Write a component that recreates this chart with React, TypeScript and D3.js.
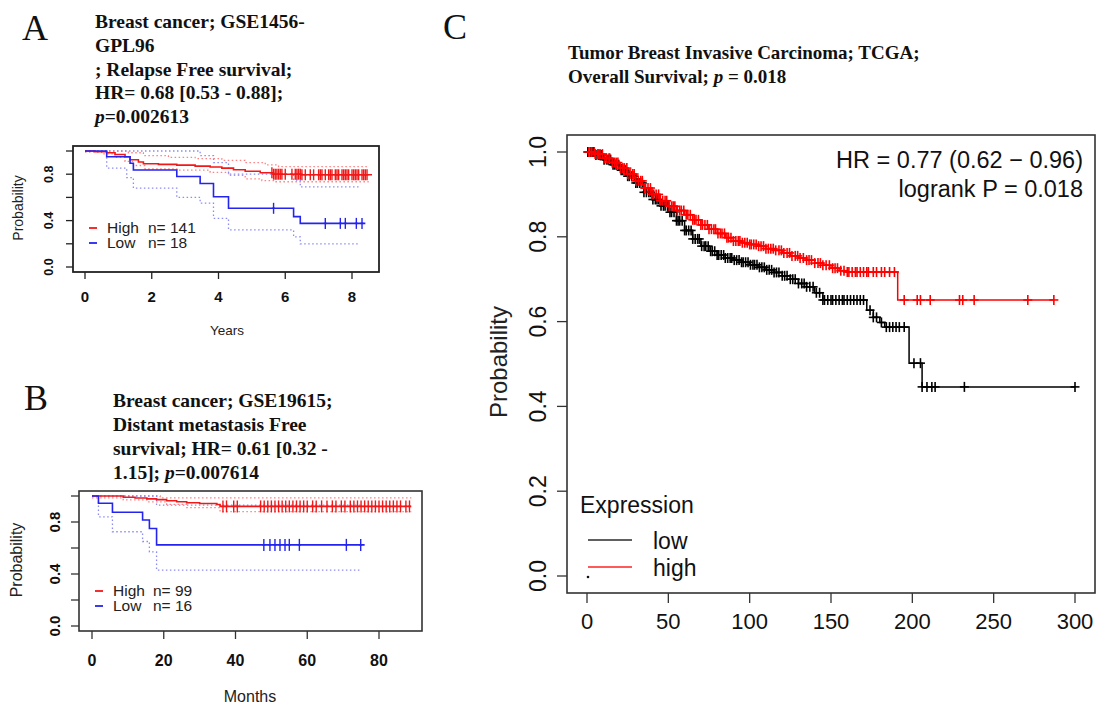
import React, { useEffect, useRef } from 'react';
import * as d3 from 'd3';

type Pt = [number, number];
type Seg = [string, boolean];

const SANS = "'Liberation Sans', Arial, sans-serif";
const SERIF = "'Liberation Serif', 'Times New Roman', serif";

// ---------- Panel A: GSE1456-GPL96, relapse free survival (years)
const aTitle: Seg[][] = [
  [['Breast cancer; GSE1456-', false]],
  [['GPL96', false]],
  [['; Relapse Free survival;', false]],
  [['HR= 0.68 [0.53 - 0.88];', false]],
  [['p', true], ['=0.002613', false]],
];
const aTicksX = [0, 2, 4, 6, 8];
const aTicksY = [0, 0.2, 0.4, 0.6, 0.8, 1];
const aLabelsY = [0, 0.4, 0.8];
const aHigh: Pt[] = [[0, 1], [0.3, 0.993], [0.65, 0.985], [0.9, 0.97], [1.2, 0.95], [1.35, 0.925], [1.6, 0.905], [1.75, 0.89], [2.2, 0.885], [2.75, 0.878], [3.3, 0.87], [3.75, 0.862], [4.1, 0.852], [4.45, 0.838], [4.8, 0.826], [5.25, 0.812], [5.65, 0.8], [6.5, 0.795], [8.6, 0.795]];
const aHighUp: Pt[] = [[0, 1], [1.0, 1], [1.3, 0.985], [1.75, 0.96], [2.5, 0.945], [3.3, 0.935], [4.1, 0.92], [4.8, 0.9], [5.4, 0.88], [5.8, 0.865], [8.5, 0.865]];
const aHighLo: Pt[] = [[0, 0.99], [0.5, 0.975], [0.9, 0.945], [1.2, 0.91], [1.45, 0.875], [1.8, 0.845], [2.75, 0.835], [3.75, 0.815], [4.3, 0.79], [4.8, 0.76], [5.3, 0.745], [5.7, 0.735], [8.5, 0.735]];
const aLow: Pt[] = [[0, 1], [0.65, 0.951], [1.35, 0.894], [1.45, 0.836], [2.75, 0.78], [3.45, 0.72], [3.85, 0.606], [4.3, 0.506], [6.25, 0.434], [6.45, 0.376], [8.4, 0.376]];
const aLowUp: Pt[] = [[0, 1], [3.45, 0.96], [3.85, 0.9], [4.3, 0.8], [6.25, 0.75], [6.45, 0.69], [8.2, 0.69]];
const aLowLo: Pt[] = [[0, 1], [0.65, 0.853], [1.25, 0.77], [1.45, 0.68], [2.75, 0.6], [3.45, 0.55], [3.85, 0.42], [4.3, 0.32], [6.25, 0.26], [6.45, 0.2], [8.2, 0.2]];
const aHighCens = [5.6, 5.65, 5.7, 5.75, 5.8, 5.85, 5.9, 6.0, 6.2, 6.3, 6.35, 6.4, 6.45, 6.5, 6.6, 6.75, 6.85, 7.0, 7.05, 7.1, 7.2, 7.3, 7.35, 7.4, 7.5, 7.55, 7.6, 7.7, 7.75, 7.8, 7.85, 7.9, 8.0, 8.05, 8.1, 8.15, 8.2, 8.3, 8.35, 8.4, 8.45];
const aLowCens = [5.65, 7.2, 7.65, 7.8, 8.13, 8.3];
const aLegend = [['High', 'n= 141'], ['Low', 'n= 18']];

// ---------- Panel B: GSE19615, distant metastasis free survival (months)
const bTitle: Seg[][] = [
  [['Breast cancer; GSE19615;', false]],
  [['Distant metastasis Free', false]],
  [['survival; HR= 0.61 [0.32 -', false]],
  [['1.15]; ', false], ['p', true], ['=0.007614', false]],
];
const bTicksX = [0, 20, 40, 60, 80];
const bTicksY = [0, 0.2, 0.4, 0.6, 0.8, 1];
const bLabelsY = [0, 0.4, 0.8];
const bHigh: Pt[] = [[0, 1], [8.7, 0.99], [12, 0.985], [15.3, 0.978], [18, 0.972], [20.8, 0.964], [23.6, 0.956], [26.4, 0.948], [30, 0.942], [34.8, 0.935], [35.7, 0.92], [89, 0.92]];
const bHighUp: Pt[] = [[0, 1], [19, 0.985], [89, 0.985]];
const bHighLo: Pt[] = [[0, 0.985], [8.7, 0.97], [15.3, 0.955], [20.8, 0.935], [26.4, 0.91], [35.7, 0.88], [89, 0.88]];
const bLow: Pt[] = [[0, 1], [1.8, 0.944], [5.7, 0.875], [14.1, 0.815], [16, 0.75], [18, 0.624], [76, 0.624]];
const bLowUp: Pt[] = [[0, 1], [18, 0.93], [75, 0.93]];
const bLowLo: Pt[] = [[0, 1], [1.8, 0.84], [5.7, 0.725], [14.1, 0.65], [16, 0.57], [18, 0.43], [75, 0.43]];
const bHighCens = [36.5, 37.5, 39.5, 40.5, 47, 48, 49, 50, 51, 52, 53, 54, 55, 56, 57, 58, 59, 60, 61.5, 62.5, 64, 65.5, 67, 68, 69.5, 70.5, 72, 73, 74, 75, 76, 77, 78, 79, 80, 81, 82, 83, 84, 85, 86, 87.5, 88.5];
const bLowCens = [47.9, 49.6, 51, 52.4, 53.8, 55, 57.8, 70.9, 74.9];
const bLegend = [['High', 'n= 99'], ['Low', 'n= 16']];

// ---------- Panel C: TCGA BRCA overall survival (months)
const cTitle: Seg[][] = [
  [['Tumor Breast Invasive Carcinoma; TCGA;', false]],
  [['Overall Survival; ', false], ['p', true], [' = 0.018', false]],
];
const cTicksX = [0, 50, 100, 150, 200, 250, 300];
const cTicksY = [0, 0.2, 0.4, 0.6, 0.8, 1];
const cHigh: Pt[] = [[0, 1], [5, 0.995], [10, 0.985], [15, 0.975], [20, 0.962], [25, 0.948], [30, 0.932], [35, 0.915], [40, 0.9], [45, 0.885], [50, 0.872], [55, 0.862], [60, 0.852], [65, 0.84], [70, 0.828], [75, 0.818], [80, 0.808], [85, 0.798], [90, 0.79], [95, 0.786], [100, 0.782], [105, 0.778], [110, 0.772], [115, 0.768], [120, 0.762], [125, 0.755], [130, 0.75], [135, 0.745], [140, 0.738], [145, 0.733], [150, 0.726], [155, 0.72], [160, 0.717], [191, 0.651], [287, 0.651]];
const cLow: Pt[] = [[0, 1], [5, 0.993], [10, 0.982], [15, 0.97], [20, 0.957], [25, 0.943], [30, 0.927], [35, 0.905], [40, 0.888], [45, 0.873], [50, 0.858], [55, 0.838], [60, 0.815], [65, 0.795], [70, 0.778], [75, 0.766], [80, 0.757], [85, 0.75], [90, 0.745], [95, 0.74], [100, 0.734], [105, 0.728], [110, 0.722], [115, 0.716], [120, 0.708], [125, 0.7], [130, 0.69], [135, 0.682], [140, 0.668], [145, 0.651], [172, 0.627], [176, 0.61], [180, 0.598], [183, 0.587], [198, 0.502], [206, 0.446], [300, 0.446]];
const cHighCens = [1, 2.5, 3, 4.5, 5, 6.5, 7, 8, 9.5, 11, 12, 13.5, 14, 15.5, 17, 18, 19, 20.5, 22, 23, 24.5, 25, 26.5, 28, 29, 30, 31.5, 33, 34, 35.5, 36, 37.5, 39, 40, 41, 42.5, 44, 45, 46.5, 48, 49, 50.5, 52, 53, 54, 55.5, 57, 58, 59.5, 61, 62, 63.5, 65, 66, 67, 68.5, 70, 71, 72.5, 74, 75, 76.5, 78, 79, 80.5, 82, 83, 84.5, 86, 87, 88.5, 90, 91.5, 93, 94, 95.5, 97, 98.5, 100, 101, 102.5, 104, 105.5, 107, 108.5, 110, 111.5, 113, 114.5, 116, 118, 119.5, 121, 123, 124.5, 126, 128, 129.5, 131, 133, 135, 136.5, 138, 140, 142, 143.5, 145, 147, 149, 151, 152.5, 154, 156, 158, 160, 161, 163, 165, 166, 168, 170, 172, 173, 176, 178, 181, 183, 186, 189, 195, 203, 205, 211, 229, 231, 238, 271, 287];
const cLowCens = [0.5, 2, 3.5, 4, 5.5, 7, 8, 9, 10.5, 12, 13, 14.5, 16, 17, 18, 19.5, 21, 22, 23.5, 25, 26, 27.5, 29, 30, 31, 32.5, 34, 35, 36.5, 38, 39, 40.5, 42, 43, 44, 45.5, 47, 48, 49.5, 51, 52, 53.5, 55, 56, 57, 58.5, 60, 61, 62.5, 64, 65, 66.5, 68, 69, 70.5, 72, 73, 74.5, 76, 77, 78.5, 80, 81, 82.5, 84, 85, 86.5, 88, 89, 90.5, 92, 93.5, 95, 96, 97.5, 99, 100.5, 102, 103, 104.5, 106, 107.5, 109, 110.5, 112, 113.5, 115, 116.5, 118, 120, 121.5, 123, 125, 126.5, 128, 130, 132, 133.5, 135, 137, 139, 141, 143, 145, 146, 148, 150, 151, 153, 155, 157, 158, 160, 162, 164, 166, 168, 170, 174, 176, 178, 181, 184, 186, 188, 190, 192, 195, 201, 205, 206, 209, 212, 214, 232, 300];
const cStats = ['HR = 0.77 (0.62 \u2212 0.96)', 'logrank P = 0.018'];
const cLegendTitle = 'Expression';
const cLegend = [['low', '#606060'], ['high', '#ff5a5a']];

function stepValue(steps: Pt[], t: number) {
  const i = d3.bisector((d: Pt) => d[0]).right(steps, t) - 1;
  return steps[Math.max(0, i)][1];
}

function drawTitle(svg: any, lines: Seg[][], x: number, y0: number, dy: number, size: number) {
  const t = svg
    .append('text')
    .attr('font-family', SERIF)
    .attr('font-weight', 'bold')
    .attr('font-size', size)
    .attr('fill', '#111')
    .style('white-space', 'pre');
  lines.forEach((segs, i) => {
    segs.forEach((s, j) => {
      const ts = t.append('tspan').text(s[0]);
      if (j === 0) ts.attr('x', x).attr('y', y0 + i * dy);
      if (s[1]) ts.attr('font-style', 'italic');
    });
  });
}

function drawFrame(svg: any, o: any) {
  const { x, y, box } = o;
  const g = svg.append('g');
  g.append('rect')
    .attr('x', box[0])
    .attr('y', box[1])
    .attr('width', box[2] - box[0])
    .attr('height', box[3] - box[1])
    .attr('fill', 'none')
    .attr('stroke', o.boxStroke)
    .attr('stroke-width', o.boxWidth);

  o.xTicks.forEach((t: number) => {
    g.append('line')
      .attr('x1', x(t)).attr('x2', x(t))
      .attr('y1', box[3]).attr('y2', box[3] + o.tickLen)
      .attr('stroke', o.boxStroke).attr('stroke-width', o.tickWidth);
    g.append('text')
      .attr('x', x(t)).attr('y', o.xBase)
      .attr('text-anchor', 'middle')
      .attr('font-family', SANS).attr('font-size', o.xFont)
      .attr('font-weight', o.bold ? 'bold' : 'normal')
      .attr('fill', '#111')
      .text(String(t));
  });
  o.yTicks.forEach((t: number) => {
    g.append('line')
      .attr('x1', box[0] - o.tickLen).attr('x2', box[0])
      .attr('y1', y(t)).attr('y2', y(t))
      .attr('stroke', o.boxStroke).attr('stroke-width', o.tickWidth);
  });
  o.yLabels.forEach((t: number) => {
    g.append('text')
      .attr('transform', `translate(${o.yBase},${y(t)}) rotate(-90)`)
      .attr('text-anchor', 'middle')
      .attr('font-family', SANS).attr('font-size', o.yFont)
      .attr('font-weight', o.bold ? 'bold' : 'normal')
      .attr('fill', '#111')
      .text(d3.format('.1f')(t));
  });
  if (o.xTitle) {
    g.append('text')
      .attr('x', o.xTitle[1]).attr('y', o.xTitle[2])
      .attr('text-anchor', 'middle')
      .attr('font-family', SANS).attr('font-size', o.xTitle[3])
      .attr('fill', '#222')
      .text(o.xTitle[0]);
  }
  g.append('text')
    .attr('transform', `translate(${o.yTitle[1]},${o.yTitle[2]}) rotate(-90)`)
    .attr('text-anchor', 'middle')
    .attr('font-family', SANS).attr('font-size', o.yTitle[3])
    .attr('fill', '#222')
    .text(o.yTitle[0]);
}

function drawCurve(g: any, data: Pt[], x: any, y: any, color: string, width: number, dash?: string) {
  const line = d3
    .line<Pt>()
    .x((d) => x(d[0]))
    .y((d) => y(d[1]))
    .curve(d3.curveStepAfter);
  const p = g
    .append('path')
    .datum(data)
    .attr('fill', 'none')
    .attr('stroke', color)
    .attr('stroke-width', width)
    .attr('d', line);
  if (dash) p.attr('stroke-dasharray', dash);
}

function drawCensor(g: any, times: number[], steps: Pt[], x: any, y: any, color: string, half: number, hw: number, sw: number) {
  times.forEach((t) => {
    const cx = x(t);
    const cy = y(stepValue(steps, t));
    g.append('line')
      .attr('x1', cx).attr('x2', cx)
      .attr('y1', cy - half).attr('y2', cy + half)
      .attr('stroke', color).attr('stroke-width', sw);
    g.append('line')
      .attr('x1', cx - hw).attr('x2', cx + hw)
      .attr('y1', cy).attr('y2', cy)
      .attr('stroke', color).attr('stroke-width', sw);
  });
}

function drawSmallLegend(svg: any, rows: string[][], colors: string[], dashX: number, textX: number, nX: number, ys: number[], size: number) {
  rows.forEach((r, i) => {
    svg.append('line')
      .attr('x1', dashX).attr('x2', dashX + 8)
      .attr('y1', ys[i] - 5).attr('y2', ys[i] - 5)
      .attr('stroke', colors[i]).attr('stroke-width', 1.8);
    svg.append('text')
      .attr('x', textX).attr('y', ys[i])
      .attr('font-family', SANS).attr('font-size', size).attr('fill', '#222')
      .text(r[0]);
    svg.append('text')
      .attr('x', nX).attr('y', ys[i])
      .attr('font-family', SANS).attr('font-size', size).attr('fill', '#222')
      .text(r[1]);
  });
}

const RED = '#f21818';
const BLUE = '#2424ee';
const RED_CI = '#ff8080';
const BLUE_CI = '#8c8cf5';

const App: React.FC = () => {
  const svgRef = useRef<SVGSVGElement>(null);

  useEffect(() => {
    if (!svgRef.current) return;
    d3.select(svgRef.current).selectAll('*').remove();
    const svg = d3.select(svgRef.current);

    svg.append('rect').attr('width', 1097).attr('height', 704).attr('fill', '#fff');

    // panel letters
    [['A', 22, 40], ['B', 24, 410], ['C', 443, 39]].forEach((d) => {
      svg.append('text')
        .attr('x', d[1]).attr('y', d[2])
        .attr('font-family', SERIF).attr('font-size', 36).attr('fill', '#111')
        .text(d[0] as string);
    });

    // ---------------- Panel A
    drawTitle(svg, aTitle, 95, 28, 23.75, 19.5);
    const ax = d3.scaleLinear().domain([0, 8]).range([85, 352]);
    const ay = d3.scaleLinear().domain([0, 1]).range([267, 151]);
    const ag = svg.append('g');
    drawCurve(ag, aHighUp, ax, ay, RED_CI, 1.3, '1.5,2.5');
    drawCurve(ag, aHighLo, ax, ay, RED_CI, 1.3, '1.5,2.5');
    drawCurve(ag, aLowUp, ax, ay, BLUE_CI, 1.3, '1.5,2.5');
    drawCurve(ag, aLowLo, ax, ay, BLUE_CI, 1.3, '1.5,2.5');
    drawCurve(ag, aHigh, ax, ay, RED, 1.6);
    drawCurve(ag, aLow, ax, ay, BLUE, 1.6);
    drawCensor(ag, aHighCens, aHigh, ax, ay, RED, 5.5, 1.5, 1.4);
    drawCensor(ag, aLowCens, aLow, ax, ay, BLUE, 5.5, 1.5, 1.4);
    drawFrame(svg, {
      x: ax, y: ay, box: [73, 146, 379, 272], boxStroke: '#222', boxWidth: 1.8, tickLen: 7, tickWidth: 1.3,
      xTicks: aTicksX, yTicks: aTicksY, yLabels: aLabelsY, bold: true,
      xFont: 15, xBase: 302, yFont: 12.5, yBase: 53,
      xTitle: ['Years', 227, 335, 13.5], yTitle: ['Probability', 23, 208, 14],
    });
    drawSmallLegend(svg, aLegend, [RED, BLUE], 89, 107, 148, [233, 248], 15.5);

    // ---------------- Panel B
    drawTitle(svg, bTitle, 113, 407, 24, 19.5);
    const bx = d3.scaleLinear().domain([0, 80]).range([92, 379]);
    const by = d3.scaleLinear().domain([0, 1]).range([626, 496]);
    const bg = svg.append('g');
    drawCurve(bg, bHighUp, bx, by, RED_CI, 1.3, '1.5,2.5');
    drawCurve(bg, bHighLo, bx, by, RED_CI, 1.3, '1.5,2.5');
    drawCurve(bg, bLowUp, bx, by, BLUE_CI, 1.3, '1.5,2.5');
    drawCurve(bg, bLowLo, bx, by, BLUE_CI, 1.3, '1.5,2.5');
    drawCurve(bg, bHigh, bx, by, RED, 1.6);
    drawCurve(bg, bLow, bx, by, BLUE, 1.6);
    drawCensor(bg, bHighCens, bHigh, bx, by, RED, 6, 1.5, 1.4);
    drawCensor(bg, bLowCens, bLow, bx, by, BLUE, 6, 1.5, 1.4);
    drawFrame(svg, {
      x: bx, y: by, box: [79, 491, 422, 631], boxStroke: '#333', boxWidth: 1.6, tickLen: 8, tickWidth: 1.3,
      xTicks: bTicksX, yTicks: bTicksY, yLabels: bLabelsY, bold: true,
      xFont: 16, xBase: 666, yFont: 15, yBase: 60,
      xTitle: ['Months', 250, 702, 16], yTitle: ['Probability', 22, 560, 16],
    });
    drawSmallLegend(svg, bLegend, [RED, BLUE], 95, 113, 153, [596, 611], 15.5);

    // ---------------- Panel C
    drawTitle(svg, cTitle, 568, 59, 24, 19);
    const cx = d3.scaleLinear().domain([0, 300]).range([587, 1075]);
    const cy = d3.scaleLinear().domain([0, 1]).range([576, 152]);
    const cg = svg.append('g');
    drawCurve(cg, cLow, cx, cy, '#000', 1.5);
    drawCurve(cg, cHigh, cx, cy, '#ff0000', 1.5);
    drawCensor(cg, cLowCens, cLow, cx, cy, '#000', 5, 4.5, 1.6);
    drawCensor(cg, cHighCens, cHigh, cx, cy, '#ff0000', 5, 4.5, 1.6);
    drawFrame(svg, {
      x: cx, y: cy, box: [567, 135, 1095, 593], boxStroke: '#333', boxWidth: 1.6, tickLen: 10, tickWidth: 1.3,
      xTicks: cTicksX, yTicks: cTicksY, yLabels: cTicksY, bold: false,
      xFont: 22, xBase: 629, yFont: 23, yBase: 546,
      xTitle: null, yTitle: ['Probability', 507, 362, 24],
    });
    cStats.forEach((s, i) => {
      svg.append('text')
        .attr('x', 1083).attr('y', 168 + i * 29)
        .attr('text-anchor', 'end')
        .attr('font-family', SANS).attr('font-size', 23.5).attr('fill', '#111')
        .text(s);
    });
    svg.append('text')
      .attr('x', 580).attr('y', 513)
      .attr('font-family', SANS).attr('font-size', 23).attr('fill', '#111')
      .text(cLegendTitle);
    cLegend.forEach((d, i) => {
      const yy = 540 + i * 27;
      svg.append('line')
        .attr('x1', 588).attr('x2', 632)
        .attr('y1', yy).attr('y2', yy)
        .attr('stroke', d[1]).attr('stroke-width', 2);
      svg.append('text')
        .attr('x', 653).attr('y', yy + 9)
        .attr('font-family', SANS).attr('font-size', 23).attr('fill', '#111')
        .text(d[0]);
    });
    svg.append('circle').attr('cx', cx(0) + 1).attr('cy', cy(0) + 1).attr('r', 1.3).attr('fill', '#111');
  }, []);

  return (
    <svg
      ref={svgRef}
      width={1097}
      height={704}
      style={{ position: 'absolute', left: 0, top: 0, display: 'block' }}
    />
  );
};

export default App;
